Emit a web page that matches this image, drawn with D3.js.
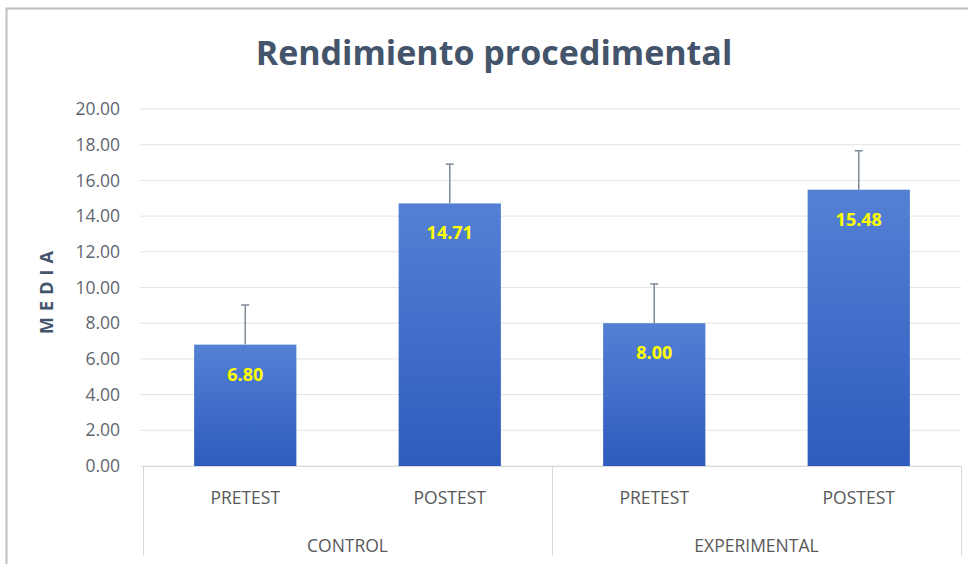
<!DOCTYPE html>
<html>
<head>
<meta charset="utf-8">
<script src="https://cdn.jsdelivr.net/npm/d3@7"></script>
<style>
  body { margin: 0; background: #fff; }
  text { font-family: "Liberation Sans Narrow", "Open Sans", sans-serif; }
</style>
</head>
<body>
<div id="chart"></div>
<script>
var svgWidth = 968;
var svgHeight = 564;

// data
var groups = ["CONTROL", "EXPERIMENTAL"];
var phases = ["PRETEST", "POSTEST", "PRETEST", "POSTEST"];
var barGroup = ["CONTROL", "CONTROL", "EXPERIMENTAL", "EXPERIMENTAL"];
var means = [6.80, 14.71, 8.00, 15.48];
var errors = [2.22, 2.20, 2.20, 2.18];
var yTicks = [0, 2, 4, 6, 8, 10, 12, 14, 16, 18, 20];

var margin = { top: 109, right: 7, bottom: 98, left: 143 };
var width = svgWidth - margin.left - margin.right;
var height = svgHeight - margin.top - margin.bottom;

var svg = d3.select("#chart")
  .append("svg")
  .attr("width", svgWidth)
  .attr("height", svgHeight);

// chart frame
svg.append("path")
  .attr("d", "M6.5,564 V8.5 H968")
  .attr("fill", "none")
  .attr("stroke", "#bfbfbf")
  .attr("stroke-width", 2);

var defs = svg.append("defs");
var grad = defs.append("linearGradient")
  .attr("id", "barGrad")
  .attr("x1", 0).attr("y1", 0).attr("x2", 0).attr("y2", 1);
grad.append("stop").attr("offset", "0%").attr("stop-color", "#5480d4");
grad.append("stop").attr("offset", "100%").attr("stop-color", "#2e5cbe");

var chartGroup = svg.append("g")
  .attr("transform", `translate(${margin.left}, ${margin.top})`);

var idx = d3.range(means.length);

var xScale = d3.scaleBand()
  .domain(idx)
  .range([0, width])
  .paddingInner(0.5)
  .paddingOuter(0.25);

var yScale = d3.scaleLinear()
  .domain([0, 20])
  .range([height, 0]);

// gridlines
chartGroup.append("g")
  .selectAll("line")
  .data(yTicks)
  .enter()
  .append("line")
  .attr("x1", -3)
  .attr("x2", width)
  .attr("y1", d => yScale(d))
  .attr("y2", d => yScale(d))
  .attr("stroke", "#e3e3e3")
  .attr("stroke-width", 1);

// y axis labels
var yAxis = d3.axisLeft(yScale)
  .tickValues(yTicks)
  .tickFormat(d3.format(".2f"))
  .tickSize(0)
  .tickPadding(23);

var yAxisG = chartGroup.append("g").call(yAxis);
yAxisG.select(".domain").remove();
yAxisG.selectAll("text")
  .attr("fill", "#5f6670")
  .style("font-family", "'Open Sans', sans-serif")
  .style("font-size", "17.5px");

// bars
chartGroup.selectAll("rect.bar")
  .data(idx)
  .enter()
  .append("rect")
  .classed("bar", true)
  .attr("x", i => xScale(i))
  .attr("y", i => yScale(means[i]))
  .attr("width", xScale.bandwidth())
  .attr("height", i => height - yScale(means[i]))
  .attr("fill", "url(#barGrad)");

// error bars (plus only)
var errG = chartGroup.append("g")
  .attr("stroke", "#7f8a99")
  .attr("stroke-width", 1.5);

errG.selectAll("line.stem")
  .data(idx)
  .enter()
  .append("line")
  .attr("x1", i => xScale(i) + xScale.bandwidth() / 2)
  .attr("x2", i => xScale(i) + xScale.bandwidth() / 2)
  .attr("y1", i => yScale(means[i]))
  .attr("y2", i => yScale(means[i] + errors[i]));

errG.selectAll("line.cap")
  .data(idx)
  .enter()
  .append("line")
  .attr("x1", i => xScale(i) + xScale.bandwidth() / 2 - 4)
  .attr("x2", i => xScale(i) + xScale.bandwidth() / 2 + 4)
  .attr("y1", i => yScale(means[i] + errors[i]))
  .attr("y2", i => yScale(means[i] + errors[i]));

// value labels
chartGroup.selectAll("text.val")
  .data(idx)
  .enter()
  .append("text")
  .attr("x", i => xScale(i) + xScale.bandwidth() / 2)
  .attr("y", i => yScale(means[i]) + 36)
  .attr("text-anchor", "middle")
  .attr("fill", "#ffff00")
  .style("font-family", "'Open Sans', sans-serif")
  .style("font-weight", "bold")
  .style("font-size", "18px")
  .text(i => means[i].toFixed(2));

// category axis
var axisG = chartGroup.append("g")
  .attr("transform", `translate(0, ${height})`);

axisG.append("line")
  .attr("x1", 0).attr("x2", width)
  .attr("y1", 0.5).attr("y2", 0.5)
  .attr("stroke", "#d9d9d9");

var groupScale = d3.scaleBand()
  .domain(groups)
  .range([0, width]);

var seps = [0, groupScale("EXPERIMENTAL"), width];
axisG.selectAll("line.sep")
  .data(seps)
  .enter()
  .append("line")
  .attr("x1", d => Math.round(d) + 0.5)
  .attr("x2", d => Math.round(d) + 0.5)
  .attr("y1", 0)
  .attr("y2", 90)
  .attr("stroke", "#d9d9d9");

axisG.selectAll("text.phase")
  .data(idx)
  .enter()
  .append("text")
  .attr("x", i => xScale(i) + xScale.bandwidth() / 2)
  .attr("y", 38)
  .attr("text-anchor", "middle")
  .attr("fill", "#595959")
  .style("font-size", "17.5px")
  .text(i => phases[i]);

axisG.selectAll("text.group")
  .data(groups)
  .enter()
  .append("text")
  .attr("x", d => groupScale(d) + groupScale.bandwidth() / 2)
  .attr("y", 86)
  .attr("text-anchor", "middle")
  .attr("fill", "#595959")
  .style("font-size", "17.5px")
  .text(d => d);

// axis title
svg.append("text")
  .attr("transform", `translate(53, ${margin.top + height / 2 + 2}) rotate(-90)`)
  .attr("text-anchor", "middle")
  .attr("fill", "#44546a")
  .style("font-family", "'Open Sans', sans-serif")
  .style("font-weight", "bold")
  .style("font-size", "18px")
  .style("letter-spacing", "6px")
  .text("MEDIA");

// chart title
svg.append("text")
  .attr("x", 494)
  .attr("y", 65)
  .attr("text-anchor", "middle")
  .attr("fill", "#44546a")
  .style("font-family", "'Open Sans', sans-serif")
  .style("font-weight", "bold")
  .style("font-size", "34px")
  .text("Rendimiento procedimental");
</script>
</body>
</html>
